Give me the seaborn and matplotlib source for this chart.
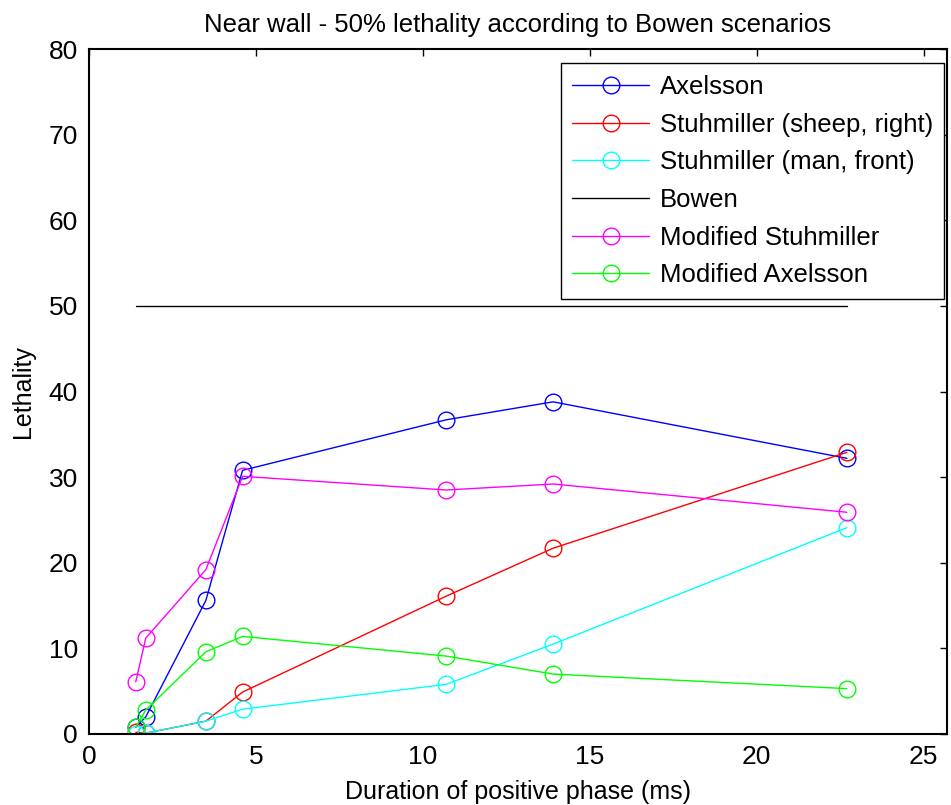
"""Near wall lethality chart (Bowen scenarios), MATLAB-like styling."""

import matplotlib
matplotlib.use("Agg")
import matplotlib.pyplot as plt
import pandas as pd
import seaborn as sns

# duration of positive phase (ms)
duration = [1.4, 1.7, 3.5, 4.6, 10.7, 13.9, 22.7]

axelsson = [0.8, 2.0, 15.6, 30.8, 36.7, 38.8, 32.2]
stuh_sheep = [0.2, 0.1, 1.5, 4.9, 16.1, 21.7, 32.9]
stuh_man = [0.0, 0.1, 1.5, 2.9, 5.8, 10.5, 24.1]
mod_stuh = [6.1, 11.2, 19.2, 30.1, 28.5, 29.2, 25.9]
mod_axelsson = [0.8, 2.8, 9.6, 11.4, 9.1, 7.0, 5.3]

bowen_x = [1.4, 22.7]
bowen_y = [50, 50]

series = [
    ("Axelsson", axelsson, "#0000ff"),
    ("Stuhmiller (sheep, right)", stuh_sheep, "#ff0000"),
    ("Stuhmiller (man, front)", stuh_man, "#00ffff"),
    ("Bowen", None, "#000000"),
    ("Modified Stuhmiller", mod_stuh, "#ff00ff"),
    ("Modified Axelsson", mod_axelsson, "#00ff00"),
]

sns.set_style("white")
plt.rcParams["font.family"] = ["Liberation Sans", "DejaVu Sans"]
plt.rcParams["xtick.direction"] = "in"
plt.rcParams["ytick.direction"] = "in"
plt.rcParams["text.color"] = "black"
plt.rcParams["axes.labelcolor"] = "black"
plt.rcParams["xtick.color"] = "black"
plt.rcParams["ytick.color"] = "black"

fig = plt.figure(figsize=(9.51, 8.05), dpi=100)
ax = fig.add_axes([0.0936, 0.0882, 0.9022, 0.8508])

for label, values, color in series:
    if values is None:
        frame = pd.DataFrame({"x": bowen_x, "y": bowen_y})
        sns.lineplot(data=frame, x="x", y="y", color=color, linewidth=1.0,
                     label=label, ax=ax)
        continue
    frame = pd.DataFrame({"x": duration, "y": values})
    sns.lineplot(data=frame, x="x", y="y", color=color, linewidth=1.0,
                 marker="o", markersize=12, markerfacecolor="none",
                 markeredgecolor=color, markeredgewidth=1.0, label=label, ax=ax)

ax.set_xlim(0, 25.7)
ax.set_ylim(0, 80)
ax.set_xticks([0, 5, 10, 15, 20, 25])
ax.set_yticks(range(0, 81, 10))
ax.tick_params(axis="both", which="both", direction="in", top=True, right=True,
               length=5, width=1.0, labelsize=19, pad=8)
for spine in ax.spines.values():
    spine.set_linewidth(1.5)
    spine.set_color("black")

ax.set_title("Near wall - 50% lethality according to Bowen scenarios", fontsize=18.5, pad=12)
ax.set_xlabel("Duration of positive phase (ms)", fontsize=18, labelpad=8)
ax.set_ylabel("Lethality", fontsize=18, labelpad=10)

legend = ax.legend(loc="upper right", bbox_to_anchor=(0.997, 0.979), fontsize=18.5,
                   frameon=True, fancybox=False, framealpha=1, edgecolor="black",
                   handlelength=3.0, handletextpad=0.4, labelspacing=0.53,
                   borderpad=0.45, borderaxespad=0)
legend.get_frame().set_linewidth(1.0)

fig.savefig("out.png", dpi=100)
